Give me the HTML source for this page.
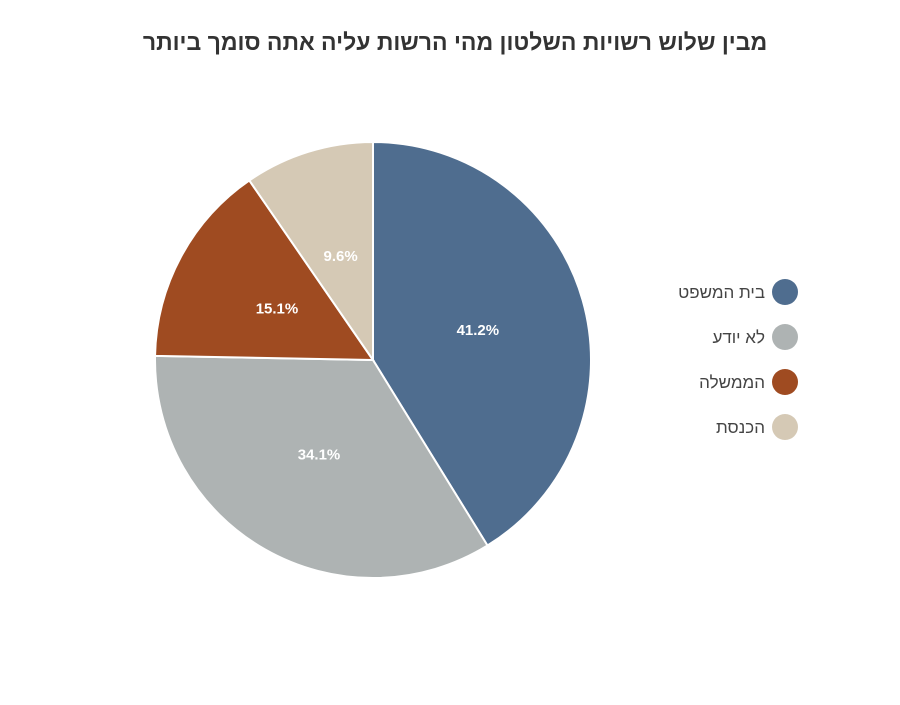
<!DOCTYPE html>
<html lang="he"><head><meta charset="utf-8">
<style>
body{margin:0;background:#fff;width:900px;height:700px;overflow:hidden;font-family:"Liberation Sans","Noto Sans CJK SC",sans-serif}
</style></head><body>
<svg id="chart" width="900" height="700" xmlns="http://www.w3.org/2000/svg">
<text x="455" y="50" text-anchor="middle" font-size="23" font-weight="bold" fill="#333" direction="rtl">מבין שלוש רשויות השלטון מהי הרשות עליה אתה סומך ביותר</text>
<g id="slices"></g><g id="labels"></g><g id="legend"></g>
</svg>
<script>
const categories=["בית המשפט","לא יודע","הממשלה","הכנסת"];
const values=[41.2,34.1,15.1,9.6];
const valueLabels=["41.2%","34.1%","15.1%","9.6%"];
const colors=["#4f6d8f","#aeb3b3","#9f4b21","#d5c9b5"];
const cx=373,cy=360,R=218;
const ns="http://www.w3.org/2000/svg";
const total=values.reduce((a,b)=>a+b,0);
function pt(a,r){return [cx+r*Math.sin(a),cy-r*Math.cos(a)];}
let a0=0;
const sg=document.getElementById('slices'),lg=document.getElementById('labels'),leg=document.getElementById('legend');
values.forEach((v,i)=>{
 const a1=a0+v/total*2*Math.PI;
 const p0=pt(a0,R),p1=pt(a1,R);
 const path=document.createElementNS(ns,'path');
 path.setAttribute('d',`M${cx},${cy}L${p0[0]},${p0[1]}A${R},${R} 0 ${a1-a0>Math.PI?1:0} 1 ${p1[0]},${p1[1]}Z`);
 path.setAttribute('fill',colors[i]);path.setAttribute('stroke','#fff');path.setAttribute('stroke-width','2');
 
 
 sg.appendChild(path);
 const m=(a0+a1)/2,lp=pt(m,R*0.5);
 const t=document.createElementNS(ns,'text');
 t.setAttribute('x',lp[0]);t.setAttribute('y',lp[1]+5);t.setAttribute('text-anchor','middle');
 t.setAttribute('font-size','15');t.setAttribute('font-weight','bold');t.setAttribute('fill','#fff');
 t.textContent=valueLabels[i];
 
 
 lg.appendChild(t);
 const y=292+i*45;
 const c=document.createElementNS(ns,'circle');
 c.setAttribute('cx',785);c.setAttribute('cy',y);c.setAttribute('r',13);c.setAttribute('fill',colors[i]);
 
 
 leg.appendChild(c);
 const lt=document.createElementNS(ns,'text');
 lt.setAttribute('x',765);lt.setAttribute('y',y+6);lt.setAttribute('text-anchor','start');lt.setAttribute('direction','rtl');
 lt.setAttribute('font-size','17');lt.setAttribute('fill','#444');
 lt.textContent=categories[i];
 
 
 leg.appendChild(lt);
 a0=a1;
});
</script>
</body></html>
